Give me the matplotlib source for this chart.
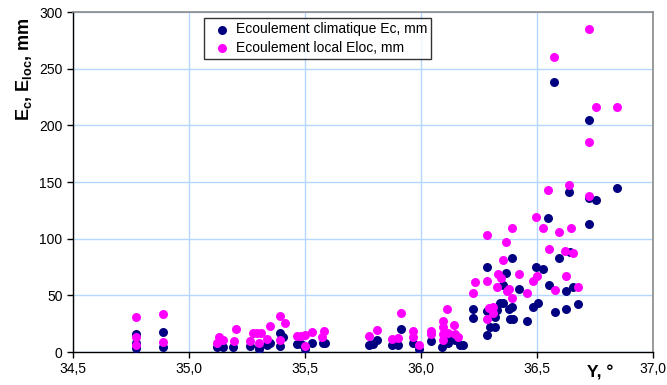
import matplotlib
matplotlib.use("Agg")
import matplotlib.pyplot as plt
from matplotlib.ticker import FixedLocator, FuncFormatter

plt.rcParams['font.family'] = ['Liberation Sans', 'DejaVu Sans']
plt.rcParams['mathtext.fontset'] = 'custom'
plt.rcParams['mathtext.rm'] = 'Liberation Sans'
plt.rcParams['mathtext.bf'] = 'Liberation Sans:bold'

# Ecoulement climatique Ec (navy)
ec_x = [34.772, 34.772, 34.772, 34.887, 34.887, 35.119, 35.148, 35.191, 35.263, 35.303,
        35.303, 35.335, 35.349, 35.392, 35.392, 35.406, 35.467, 35.483, 35.500, 35.529,
        35.576, 35.586, 35.777, 35.794, 35.809, 35.874, 35.900, 35.914, 35.967, 35.993,
        36.043, 36.089, 36.110, 36.118, 36.147, 36.168, 36.181, 36.226, 36.226, 36.286,
        36.286, 36.286, 36.297, 36.319, 36.319, 36.326, 36.341, 36.352, 36.352, 36.366,
        36.381, 36.391, 36.391, 36.384, 36.398, 36.424, 36.458, 36.484, 36.494, 36.506,
        36.524, 36.546, 36.550, 36.575, 36.576, 36.593, 36.623, 36.626, 36.642, 36.639,
        36.654, 36.675, 36.724, 36.724, 36.724, 36.754, 36.843]
ec_y = [15.6, 7.7, 3.3, 18.0, 4.0, 4.7, 4.7, 4.7, 5.3, 4.7,
        3.0, 6.2, 8.3, 16.5, 5.3, 13.0, 7.0, 7.0, 2.4, 8.3,
        7.7, 7.7, 6.2, 7.1, 10.6, 6.2, 6.2, 20.4, 8.3, 2.4,
        9.7, 4.7, 13.5, 8.3, 10.6, 6.2, 6.2, 38.0, 30.0, 75.0,
        36.5, 15.0, 22.5, 22.0, 31.0, 37.0, 43.0, 59.0, 43.5, 70.0,
        38.0, 83.0, 39.5, 29.0, 29.0, 56.0, 27.0, 40.0, 75.0, 43.0,
        73.5, 118.0, 58.7, 238.0, 35.7, 83.0, 53.7, 38.0, 88.0, 141.0,
        57.0, 42.5, 205.0, 136.0, 113.0, 134.0, 145.0]

# Ecoulement local Eloc (magenta)
el_x = [34.772, 34.772, 34.772, 34.887, 34.887, 35.131, 35.119, 35.145, 35.203, 35.195,
        35.275, 35.292, 35.309, 35.263, 35.303, 35.335, 35.349, 35.392, 35.392, 35.414,
        35.467, 35.483, 35.500, 35.500, 35.529, 35.582, 35.572, 35.777, 35.809, 35.874,
        35.900, 35.914, 35.967, 35.967, 35.993, 36.043, 36.043, 36.096, 36.096, 36.096,
        36.096, 36.110, 36.118, 36.142, 36.147, 36.160, 36.226, 36.233, 36.283, 36.286,
        36.286, 36.295, 36.312, 36.312, 36.326, 36.331, 36.345, 36.352, 36.366, 36.369,
        36.381, 36.391, 36.394, 36.424, 36.458, 36.484, 36.494, 36.501, 36.524, 36.546,
        36.550, 36.575, 36.576, 36.593, 36.622, 36.626, 36.639, 36.645, 36.654, 36.675,
        36.724, 36.724, 36.724, 36.754, 36.843]
el_y = [31.3, 13.0, 6.2, 33.4, 8.6, 13.0, 8.3, 10.6, 20.4, 10.0,
        16.5, 17.0, 16.5, 10.0, 7.7, 11.2, 23.0, 32.0, 10.6, 25.4,
        14.2, 14.2, 15.0, 5.3, 18.0, 18.9, 13.0, 14.2, 19.5, 11.2,
        12.1, 34.8, 18.9, 13.0, 6.2, 18.9, 16.0, 27.7, 22.4, 16.0,
        10.6, 37.8, 16.5, 24.0, 16.0, 13.5, 52.5, 62.0, 29.0, 103.0,
        63.0, 38.5, 40.0, 34.0, 57.0, 69.0, 65.0, 81.5, 97.5, 53.4,
        55.5, 109.0, 47.5, 69.0, 52.5, 63.0, 119.0, 67.5, 109.5, 143.0,
        91.0, 260.0, 55.0, 106.0, 89.0, 67.5, 147.0, 109.0, 87.0, 57.5,
        285.0, 185.0, 138.0, 216.0, 216.0]

x_ticks = [34.5, 35.0, 35.5, 36.0, 36.5, 37.0]
y_ticks = [0, 50, 100, 150, 200, 250, 300]
label_ec = "Ecoulement climatique Ec, mm"
label_el = "Ecoulement local Eloc, mm"

fig = plt.figure(figsize=(6.67, 3.85), dpi=100)
ax = fig.add_axes([73/667, 1-352/385, (653-73)/667, (352-12)/385])

ax.scatter(ec_x, ec_y, s=42, color='#000080', label=label_ec, zorder=3, linewidths=0)
ax.scatter(el_x, el_y, s=42, color='#ff00ff', label=label_el, zorder=4, linewidths=0)

ax.set_xlim(34.5, 37.0)
ax.set_ylim(0, 300)
ax.xaxis.set_major_locator(FixedLocator(x_ticks))
ax.yaxis.set_major_locator(FixedLocator(y_ticks))
ax.xaxis.set_major_formatter(FuncFormatter(lambda v, p: f"{v:.1f}".replace('.', ',')))
ax.yaxis.set_major_formatter(FuncFormatter(lambda v, p: f"{v:.0f}"))
ax.tick_params(axis='both', direction='out', length=4, width=1, labelsize=10, colors='black')
ax.grid(True, color='#b3d7ff', linewidth=1, zorder=0)
ax.set_axisbelow(True)

for s in ['left', 'bottom']:
    ax.spines[s].set_color('black')
    ax.spines[s].set_linewidth(1)
for s in ['top', 'right']:
    ax.spines[s].set_color('#8a8a8a')
    ax.spines[s].set_linewidth(1.2)

fig.text(24/667, 1-69/385, r'E$_\mathbf{c}$, E$_\mathbf{loc}$, mm', rotation=90,
         ha='center', va='center', fontsize=13, fontweight='bold')
fig.text(600/667, 1-373/385, 'Y, °', ha='center', va='center', fontsize=12.5, fontweight='bold')

leg = ax.legend(loc='upper left', bbox_to_anchor=((204-73)/580, 1-(18-12)/340),
                fontsize=10, frameon=True, fancybox=False, edgecolor='black',
                handletextpad=0.0, handlelength=2.0, borderpad=0.3, labelspacing=0.35,
                markerscale=1.0, borderaxespad=0)
leg.get_frame().set_linewidth(1)

fig.savefig('out.png', dpi=100)
